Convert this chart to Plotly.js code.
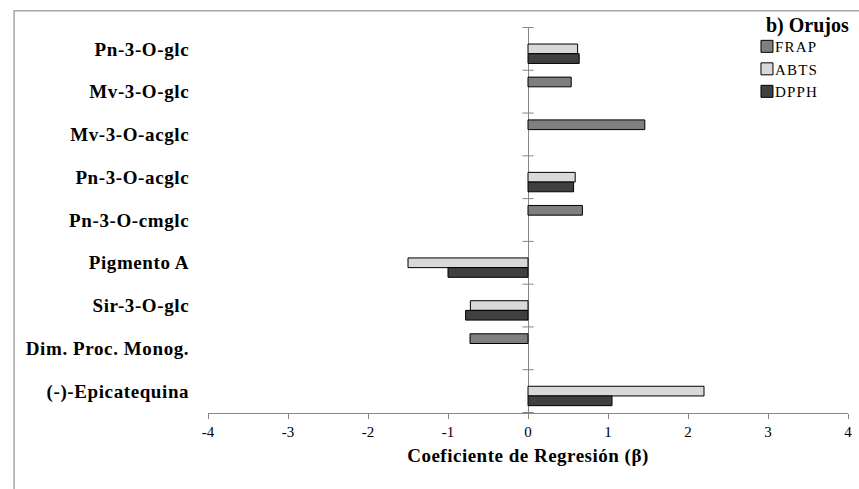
<!DOCTYPE html>
<html>
<head>
<meta charset="utf-8">
<script src="https://cdn.plot.ly/plotly-3.0.1.min.js"></script>
<style>
  html, body { margin: 0; padding: 0; background: #fff; }
  #chart { width: 859px; height: 489px; }
  .ytick text { letter-spacing: 0.6px; }
  .xtitle { letter-spacing: 0.5px; }
  .legend .legendtext { letter-spacing: 1.2px; }
  .legend .traces .legendpoints { transform: translate(12px, 0px); }
</style>
</head>
<body>
<div id="chart"></div>
<script>
// Categories, top to bottom
const categories = [
  "Pn-3-O-glc",
  "Mv-3-O-glc",
  "Mv-3-O-acglc",
  "Pn-3-O-acglc",
  "Pn-3-O-cmglc",
  "Pigmento A",
  "Sir-3-O-glc",
  "Dim. Proc. Monog.",
  "(-)-Epicatequina"
];
const seriesNames = ["FRAP", "ABTS", "DPPH"];
const frap = [null, 0.54, 1.46, null, 0.68, null, null, -0.725, null];
const abts = [0.62, null, null, 0.59, null, -1.50, -0.72, null, 2.20];
const dpph = [0.64, null, null, 0.57, null, -1.00, -0.78, null, 1.05];
const xTicks = [-4, -3, -2, -1, 0, 1, 2, 3, 4];
const legendTitle = "b) Orujos";
const xTitle = "Coeficiente de Regresión (β)";

const colors = ["#7f7f7f", "#d9d9d9", "#404040"];
const serif = "Liberation Serif";

const values = [frap, abts, dpph];
const traces = values.map((v, i) => ({
  type: "bar",
  orientation: "h",
  name: seriesNames[i],
  x: v,
  y: categories,
  marker: { color: colors[i], line: { color: "#000", width: 1 } },
  hoverinfo: "x+name"
}));

// category boundary tick marks on the zero axis
const shapes = [];
for (let k = 0; k <= categories.length; k++) {
  shapes.push({
    type: "line", xref: "x", yref: "y",
    x0: -0.07, x1: 0.07, y0: k - 0.5, y1: k - 0.5,
    line: { color: "#868686", width: 1 }
  });
}
// outer chart frame (top and left edges visible)
shapes.push({
  type: "path", xref: "paper", yref: "paper",
  path: "M -0.303,-0.3 L -0.303,1.042 L 1.1,1.042",
  line: { color: "#a6a6a6", width: 1.5 }
});

const layout = {
  width: 859, height: 489,
  margin: { l: 208, r: 11, t: 27, b: 76 },
  paper_bgcolor: "#fff", plot_bgcolor: "#fff",
  barmode: "group",
  bargap: 0.32,
  bargroupgap: 0,
  showlegend: true,
  legend: {
    x: 0.8234, xanchor: "left", y: 0.992, yanchor: "top",
    font: { family: serif, size: 15, color: "#000" },
    bgcolor: "rgba(0,0,0,0)",
    tracegroupgap: 0,
    itemwidth: 30
  },
  xaxis: {
    range: [-4, 4],
    tickvals: xTicks,
    ticktext: xTicks.map(String),
    showgrid: false,
    zeroline: true, zerolinecolor: "#868686", zerolinewidth: 1,
    showline: true, linecolor: "#868686", linewidth: 1,
    ticks: "outside", ticklen: 5, tickcolor: "#868686",
    tickfont: { family: serif, size: 15, color: "#000" },
    title: { text: xTitle, font: { family: serif, size: 19, color: "#000", weight: "bold" }, standoff: 9 },
    fixedrange: true
  },
  yaxis: {
    type: "category",
    autorange: "reversed",
    showgrid: false, zeroline: false, showline: false,
    ticks: "outside", ticklen: 14, tickcolor: "rgba(0,0,0,0)",
    tickfont: { family: serif, size: 19, color: "#000", weight: "bold" },
    fixedrange: true
  },
  shapes: shapes,
  annotations: [{
    xref: "paper", yref: "paper",
    x: 0.869, y: 1.003, xanchor: "left", yanchor: "middle",
    text: "<b>" + legendTitle + "</b>",
    showarrow: false,
    font: { family: serif, size: 20, color: "#000" }
  }]
};

Plotly.newPlot("chart", traces, layout, { displayModeBar: false, staticPlot: true });
</script>
</body>
</html>
